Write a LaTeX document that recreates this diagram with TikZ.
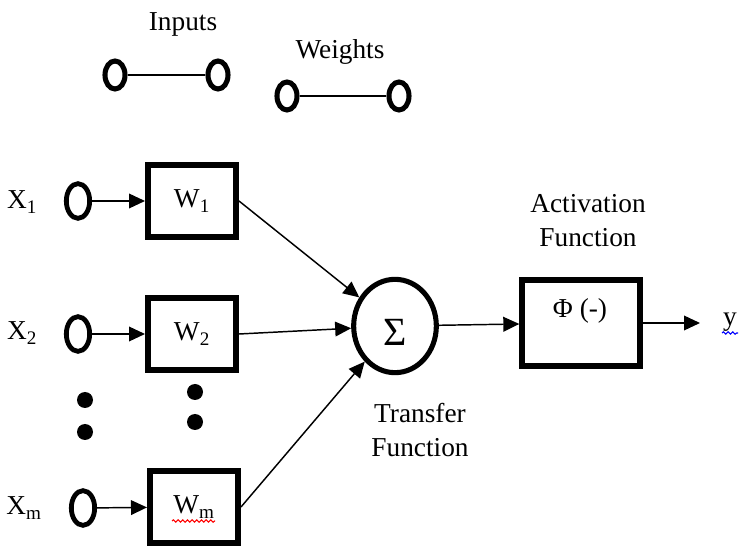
\documentclass[tikz,border=0pt]{standalone}
\usepackage{fontspec}
\setmainfont{Liberation Serif}
\usetikzlibrary{arrows.meta,shapes.geometric,decorations.pathmorphing}
\tikzset{
  every node/.style={font=\fontsize{20.5}{25.5}\selectfont},
  port/.style={draw,ellipse,line width=3.6pt,inner sep=0pt,minimum width=17.5pt,minimum height=26pt},
  legport/.style={draw,ellipse,line width=3.8pt,inner sep=0pt,minimum width=15pt,minimum height=21pt},
  wbox/.style={draw,line width=4.5pt,inner sep=0pt,minimum width=66pt,minimum height=54pt},
  arr/.style={line width=1.1pt,-{Triangle[length=12pt,width=11pt]}},
  wavy/.style={decorate,decoration={snake,amplitude=0.9pt,segment length=3.5pt},line width=0.8pt},
}
\begin{document}
\begin{tikzpicture}[x=0.75pt,y=0.75pt,yscale=-1,xscale=1]
\useasboundingbox (0,0) rectangle (739,548);

%Legend
\node (inputs) at (183,24) {Inputs};
\node[legport] (la) at (115,75) {};
\node[legport] (lb) at (218,75) {};
\draw[line width=1.1pt] (la) -- (lb);
\node (weights) at (340,52) {Weights};
\node[legport] (lc) at (287,96) {};
\node[legport] (ld) at (399,96) {};
\draw[line width=1.1pt] (lc) -- (ld);

%Inputs and weights
\node (x1) at (22,202) {X\textsubscript{1}};
\node[port] (in1) at (78,201) {};
\node[wbox] (w1) at (192,201) {W\textsubscript{1}};
\node (x2) at (22,333) {X\textsubscript{2}};
\node[port] (in2) at (78,334) {};
\node[wbox] (w2) at (192,334) {W\textsubscript{2}};
\node (xm) at (24,508) {X\textsubscript{m}};
\node[port] (inm) at (83,508) {};
\node[wbox] (wm) at (194,507) {W\textsubscript{m}};
\draw[wavy,red] (172,521) -- (215,521);

\draw[arr] (in1) -- (w1);
\draw[arr] (in2) -- (w2);
\draw[arr] (inm) -- (wm);

%Dots
\fill (85,400) circle [radius=8];
\fill (85,432) circle [radius=8];
\fill (195,392) circle [radius=8];
\fill (195,422) circle [radius=8];

%Summation
\node[draw,ellipse,line width=3.8pt,inner sep=0pt,minimum width=62pt,minimum height=70pt] (sum) at (395,326) {};
\node[font=\fontsize{30}{32}\selectfont] (sigma) at (395,332) {Σ};
\node[align=center] (sumlabel) at (420,430) {Transfer\\Function};
\draw[arr] (w1.east) -- (sum);
\draw[arr] (w2.east) -- (sum);
\draw[arr] (wm.east) -- (sum);

%Activation
\node[wbox,minimum width=88pt,minimum height=64pt] (act) at (581,323) {};
\node (phi) at (580,311) {Φ (-)};
\node[align=center] (actlabel) at (588,221) {Activation\\Function};
\draw[arr] (sum) -- (act);

%Output
\node (y) at (730,322) {y};
\coordinate (yend) at (700,323);
\draw[arr] (act) -- (yend);
\draw[wavy,blue] (722,333) -- (738,333);
\end{tikzpicture}
\end{document}
